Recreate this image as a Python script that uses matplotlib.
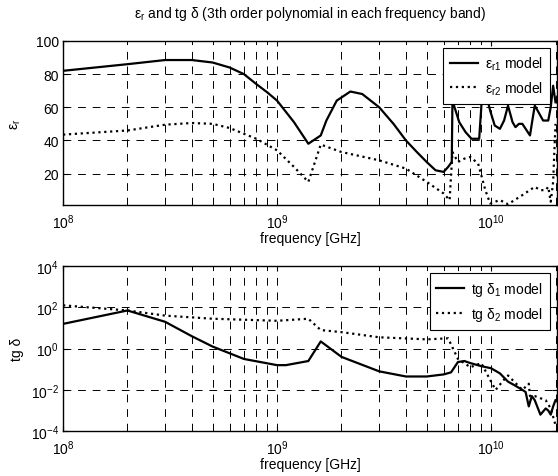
import numpy as np
import matplotlib
matplotlib.use('Agg')
import matplotlib.pyplot as plt
from matplotlib.ticker import LogLocator, NullFormatter

plt.rcParams['font.family'] = ['Liberation Sans', 'DejaVu Sans']
plt.rcParams['mathtext.fontset'] = 'custom'
plt.rcParams['mathtext.rm'] = 'Liberation Sans'
plt.rcParams['mathtext.it'] = 'Liberation Sans'
plt.rcParams['font.size'] = 10

########## data

# eps_r1 (solid)
f_e1 = [1e8, 2e8, 3e8, 4e8, 5e8, 6e8, 7e8, 8e8, 9e8, 1e9, 1.2e9, 1.4e9, 1.6e9,
        1.7e9, 1.9e9, 2.2e9, 2.5e9, 3e9, 3.5e9, 4e9, 4.5e9, 5e9, 5.5e9, 6e9, 6.3e9,
        6.55e9, 6.6e9, 7.1e9, 7.6e9, 8.1e9, 8.8e9, 9.0e9, 9.2e9, 9.6e9, 9.9e9,
        1.04e10, 1.1e10, 1.15e10, 1.2e10, 1.26e10, 1.3e10, 1.35e10, 1.4e10,
        1.45e10, 1.52e10, 1.55e10, 1.6e10, 1.65e10, 1.75e10, 1.85e10,
        1.9e10, 1.95e10, 2e10]
e1 = [82, 86, 88.5, 88.5, 87, 84, 80, 74, 69, 64, 51, 38, 43,
      52, 64, 69.5, 68, 60, 50, 40, 33, 27, 22, 21, 24,
      27, 64, 51, 45, 41, 41, 60, 85, 65, 58,
      49, 47, 52, 61, 51, 48, 50, 50,
      47, 43, 50, 61, 58, 52, 52,
      60, 73, 63]

# eps_r2 (dotted)
f_e2 = [1e8, 2e8, 3e8, 4e8, 5e8, 6e8, 8e8, 1e9, 1.2e9, 1.4e9, 1.6e9, 2e9, 3e9,
        4e9, 5e9, 6e9, 6.4e9, 6.6e9, 7e9, 7.5e9, 8e9, 8.7e9, 9.4e9, 9.9e9,
        1.1e10, 1.2e10, 1.4e10, 1.6e10, 1.7e10, 1.8e10, 1.85e10, 1.9e10,
        1.95e10, 2e10]
e2 = [43.5, 46, 49.5, 50.5, 50, 47.5, 41, 34, 24, 15, 37.5, 33, 28,
      23, 15, 8, 4, 33, 27, 29, 30, 26, 10, 2,
      4, 1.5, 7, 12, 10, 10, 12, 3,
      15, 50]

# tg delta_1 (solid)
f_t1 = [1e8, 2e8, 3e8, 4e8, 5e8, 7e8, 1e9, 1.1e9, 1.4e9, 1.6e9, 2e9, 3e9,
        4e9, 5e9, 6e9, 6.5e9, 7e9, 7.5e9, 8e9, 9e9, 1e10, 1.1e10, 1.2e10,
        1.3e10, 1.4e10, 1.45e10, 1.5e10, 1.55e10, 1.6e10, 1.7e10, 1.8e10,
        1.85e10, 1.9e10, 1.95e10, 2e10]
t1 = [10**1.2, 10**1.85, 10**1.3, 10**0.6, 10**0.1, 10**-0.5, 10**-0.8,
      10**-0.8, 10**-0.6, 10**0.35, 10**-0.4, 10**-1.1,
      10**-1.35, 10**-1.35, 10**-1.25, 10**-1.15, 10**-0.65, 10**-0.6,
      10**-0.7, 10**-0.85, 10**-0.95, 10**-1.2, 10**-1.6,
      10**-1.8, 10**-2.0, 10**-2.1, 10**-2.8, 10**-2.3, 10**-2.5, 10**-3.2,
      10**-2.9, 10**-3.0, 10**-3.2, 10**-2.8, 10**-2.5]

# tg delta_2 (dotted)
f_t2 = [1e8, 2e8, 3e8, 5e8, 1e9, 1.4e9, 1.6e9, 2e9, 3e9, 5e9, 6.3e9, 7e9,
        8e9, 9e9, 1e10, 1.05e10, 1.15e10, 1.2e10, 1.4e10, 1.5e10, 1.52e10,
        1.6e10, 1.8e10, 1.9e10, 2e10]
t2 = [10**2.1, 10**1.85, 10**1.6, 10**1.45, 10**1.35, 10**1.45, 10**0.9,
      10**0.8, 10**0.55, 10**0.45, 10**0.5, 10**-0.5,
      10**-0.9, 10**-0.7, 10**-1.6, 10**-2.0, 10**-1.5, 10**-1.3,
      10**-2.0, 10**-1.7, 10**-2.3,
      10**-2.3, 10**-2.5, 10**-2.9, 10**-3.7]

########## plot

fig = plt.figure(figsize=(5.58, 4.77), dpi=100)
ax1 = fig.add_axes([0.113, 0.568, 0.885, 0.344])
ax2 = fig.add_axes([0.113, 0.094, 0.885, 0.346])

ax1.semilogx(f_e1, e1, 'k-', lw=1.6, label=r'$\mathregular{ε_{r1}}$ model')
ax1.semilogx(f_e2, e2, 'k:', lw=1.6, label=r'$\mathregular{ε_{r2}}$ model')
ax1.set_ylim(1, 100)
ax1.set_yticks([20, 40, 60, 80, 100])
ax1.set_ylabel(r'$\mathregular{ε_r}$', labelpad=9)
ax1.set_title(r'$\mathregular{ε_r}$ and tg δ (3th order polynomial in each frequency band)',
              fontsize=10, pad=17)

ax2.loglog(f_t1, t1, 'k-', lw=1.6, label=r'tg $\mathregular{δ_1}$ model')
ax2.loglog(f_t2, t2, 'k:', lw=1.6, label=r'tg $\mathregular{δ_2}$ model')
ax2.set_ylim(1e-4, 1e4)
ax2.set_yticks([1e-4, 1e-2, 1e0, 1e2, 1e4])
ax2.yaxis.set_minor_locator(plt.NullLocator())
ax2.set_ylabel('tg δ', labelpad=5)

for ax in (ax1, ax2):
    ax.set_xlim(1e8, 2.03e10)
    ax.xaxis.set_minor_locator(LogLocator(base=10, subs=np.arange(2, 10)))
    ax.xaxis.set_minor_formatter(NullFormatter())
    ax.grid(True, which='both', axis='x', color='k', ls=(0, (8, 7)), lw=0.7)
    ax.grid(True, which='major', axis='y', color='k', ls=(0, (8, 7)), lw=0.7)
    ax.tick_params(which='both', direction='in', top=True, right=True, labelsize=10)
    ax.tick_params(axis='x', which='both', pad=5)
    ax.tick_params(axis='y', which='both', pad=3)
    ax.tick_params(which='minor', length=2)
    ax.set_xlabel('frequency [GHz]', fontsize=10, labelpad=0)
    for s in ax.spines.values():
        s.set_linewidth(1.0)
    leg = ax.legend(loc='upper right', fancybox=False, edgecolor='k',
                    framealpha=1, fontsize=10, handlelength=2.0,
                    handletextpad=0.5, labelspacing=0.5, borderpad=0.5,
                    borderaxespad=0.5)
    leg.get_frame().set_linewidth(0.8)

plt.savefig('out.png', dpi=100)
